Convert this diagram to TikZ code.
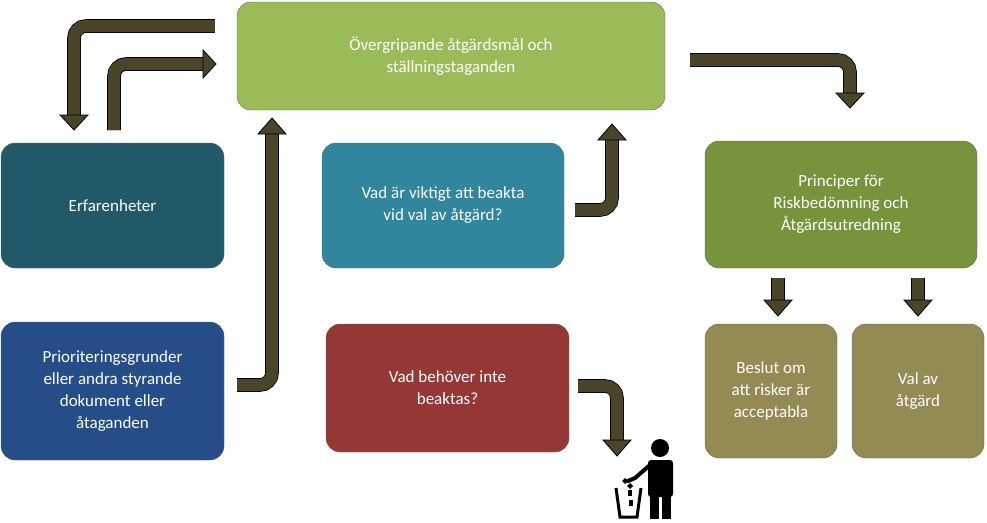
\documentclass[tikz,border=0pt]{standalone}
\usepackage{fontspec}
\setmainfont{Carlito}
\begin{document}
\begin{tikzpicture}[x=1pt,y=-1pt,
  box/.style={draw=black!60, rounded corners=14pt, text=white, align=center, font=\fontsize{17}{22}\selectfont, inner sep=0pt},
  shaft/.style={draw=black, line width=0.8pt, double=arrowc, double distance=12pt, rounded corners=12pt},
  head/.style={fill=arrowc, draw=black, line width=0.8pt, line join=miter}]
\definecolor{arrowc}{HTML}{4A452A}
\useasboundingbox (0,0) rectangle (987,522);
\node[box, fill={rgb,255:red,155;green,187;blue,89}, minimum width=428, minimum height=108] (top) at (451,56) {Övergripande åtgärdsmål och\\ställningstaganden};
\node[box, fill={rgb,255:red,33;green,89;blue,104}, minimum width=223, minimum height=125] (erf) at (112.5,205.5) {Erfarenheter};
\node[box, fill={rgb,255:red,37;green,77;blue,135}, minimum width=223, minimum height=138] (prio) at (112.5,391) {Prioriteringsgrunder\\eller andra styrande\\dokument eller\\åtaganden};
\node[box, fill={rgb,255:red,49;green,133;blue,156}, minimum width=242, minimum height=125] (vik) at (443,205.5) {Vad är viktigt att beakta\\vid val av åtgärd?};
\node[box, fill={rgb,255:red,149;green,55;blue,53}, minimum width=243, minimum height=128] (beh) at (447.5,388) {Vad behöver inte\\beaktas?};
\node[box, fill={rgb,255:red,119;green,147;blue,60}, minimum width=272, minimum height=127] (pri) at (841,204.5) {Principer för\\Riskbedömning och\\Åtgärdsutredning};
\node[box, fill={rgb,255:red,148;green,138;blue,84}, minimum width=132, minimum height=134] (bes) at (771,391) {Beslut om\\att risker är\\acceptabla};
\node[box, fill={rgb,255:red,148;green,138;blue,84}, minimum width=132, minimum height=134] (val) at (918,391) {Val av\\åtgärd};
% arrow 1: top -> erf
\draw[shaft] (top.west|-0,26) ++(-22,0) coordinate (a1) -- (74,26) -- (74,115);
\draw[head] (74,130) -- (60,115) -- (88,115) -- cycle;
% arrow 2: erf -> top
\draw[shaft] (114,130) -- (114,64) -- (203,64);
\draw[head] (216,64) -- (203,50) -- (203,78) -- cycle;
% arrow 3: prio -> top
\draw[shaft] (prio.east|-0,385) ++(13,0) -- (272,385) -- (272,134);
\draw[head] (272,118) -- (258,134) -- (286,134) -- cycle;
% arrow 4: vik -> top
\draw[shaft] (575,210) -- (612,210) -- (612,140);
\draw[head] (612,124) -- (598,140) -- (626,140) -- cycle;
% arrow 5: top -> pri
\draw[shaft] (690,60) -- (850,60) -- (850,93);
\draw[head] (850,108) -- (836,93) -- (864,93) -- cycle;
% arrows 6
\draw[shaft] (778,278) -- (778,300);
\draw[head] (778,316) -- (764,300) -- (792,300) -- cycle;
\draw[shaft] (918,278) -- (918,300);
\draw[head] (918,316) -- (904,300) -- (932,300) -- cycle;
% arrow 7: beh -> trash
\draw[shaft] (578,386) -- (617,386) -- (617,440);
\draw[head] (617,456) -- (603,440) -- (631,440) -- cycle;
% trash icon
\fill (660,448) circle (9);
\fill[rounded corners=3pt] (648,460) rectangle (673,497);
\fill (650,490) rectangle (659,519);
\fill (662,490) rectangle (671,519);
\draw[line width=4pt, line cap=round] (650,465) -- (635,478) -- (628,481);
\draw[line width=3pt] (616,488) -- (620,517) -- (637,517) -- (641,488);
\fill (628,490) rectangle (632,496);
\fill (627,486) -- (630,483) -- (633,486) -- (630,489) -- cycle;
\fill (622,481) -- (625,478) -- (628,481) -- (625,484) -- cycle;
\fill (629,500) rectangle (633,506);
\end{tikzpicture}
\end{document}
